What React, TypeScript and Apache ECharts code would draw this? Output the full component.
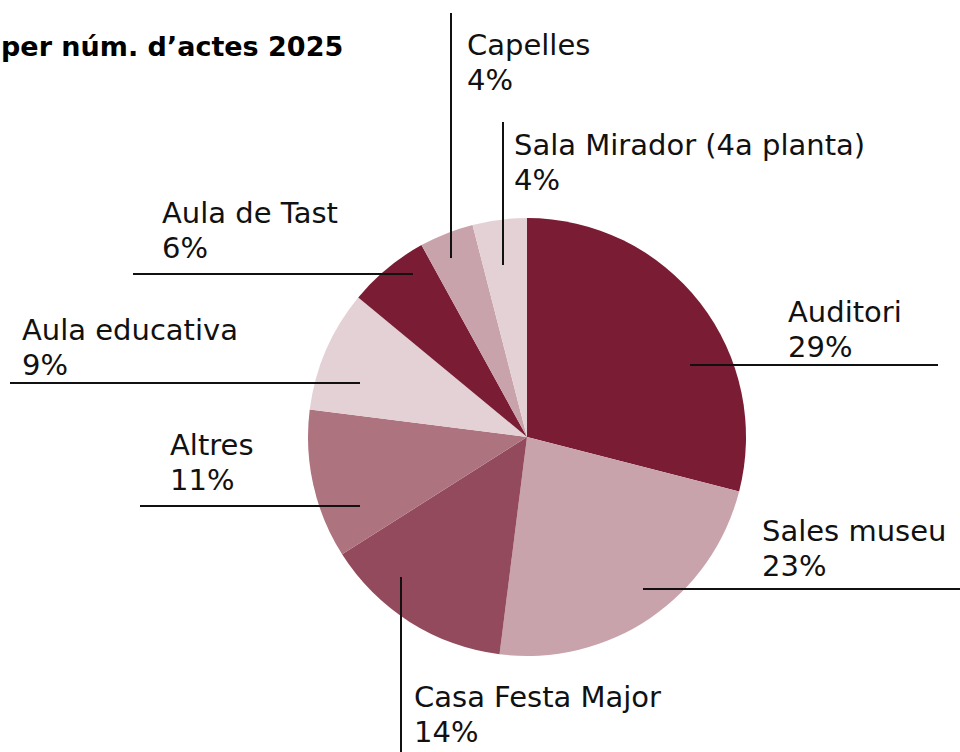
import React, { useEffect, useRef } from "react";
import * as echarts from "echarts";

const TITLE = "per núm. d’actes 2025";
const categories = [
  "Auditori",
  "Sales museu",
  "Casa Festa Major",
  "Altres",
  "Aula educativa",
  "Aula de Tast",
  "Capelles",
  "Sala Mirador (4a planta)",
];
const shares = [29, 23, 14, 11, 9, 6, 4, 4];
const sliceColors = [
  "#7a1c34",
  "#c9a3ab",
  "#934a5d",
  "#ad737f",
  "#e4d1d5",
  "#7a1c34",
  "#c9a3ab",
  "#e4d1d5",
];

// label block top-left corners and leader line end points (layout only)
const labelPos: [number, number][] = [
  [788, 294],
  [762, 513],
  [414, 679],
  [170, 427],
  [22, 312],
  [162, 195],
  [467, 27],
  [514, 127],
];
const leaderLines: [number, number, number, number][] = [
  [690, 365, 938, 365],
  [643, 589, 960, 589],
  [401, 577, 401, 752],
  [140, 506, 360, 506],
  [10, 383, 360, 383],
  [133, 274, 413, 274],
  [451, 13, 451, 258],
  [503, 122, 503, 265],
];

const LABEL_FONT = "'DejaVu Sans', sans-serif";
const TITLE_FONT = "'DejaVu Sans', sans-serif";

export default function App() {
  const ref = useRef<HTMLDivElement>(null);
  useEffect(() => {
    if (!ref.current) return;
    const chart = echarts.init(ref.current, undefined, { renderer: "svg" });
    chart.setOption({
      animation: false,
      backgroundColor: "#ffffff",
      graphic: [
        {
          type: "text",
          x: 1,
          y: 46,
          z: 10,
          style: {
            text: TITLE,
            fill: "#000",
            font: `bold 27px ${TITLE_FONT}`,
            align: "left",
            verticalAlign: "middle",
          },
        },
        ...leaderLines.map(([x1, y1, x2, y2]) => ({
          type: "line",
          z: 100,
          silent: true,
          shape: { x1, y1, x2, y2 },
          style: { stroke: "#111", lineWidth: 2 },
        })),
      ],
      series: [
        {
          type: "pie",
          z: 2,
          center: [527, 437],
          radius: 219,
          startAngle: 90,
          clockwise: true,
          avoidLabelOverlap: false,
          silent: true,
          data: categories.map((name, i) => ({
            name,
            value: shares[i],
            itemStyle: { color: sliceColors[i] },
          })),
          label: {
            show: true,
            position: "outside",
            formatter: "{b}\n{c}%",
            fontFamily: LABEL_FONT,
            fontSize: 29,
            lineHeight: 35,
            color: "#111",
          },
          labelLine: { show: false },
          labelLayout: (params: any) => {
            const [x, y] = labelPos[params.dataIndex];
            return { x, y, align: "left", verticalAlign: "top" };
          },
        },
      ],
    });
    return () => chart.dispose();
  }, []);
  return (
    <div
      ref={ref}
      style={{ position: "fixed", left: 0, top: 0, width: 960, height: 752 }}
    />
  );
}
